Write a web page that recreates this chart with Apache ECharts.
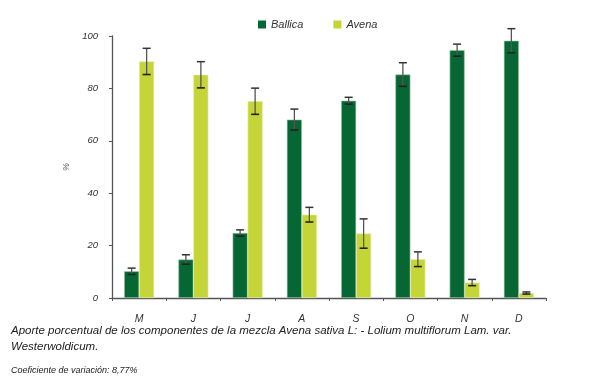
<!DOCTYPE html>
<html>
<head>
<meta charset="utf-8">
<script src="https://cdn.jsdelivr.net/npm/echarts@6/dist/echarts.min.js"></script>
<style>html,body{margin:0;padding:0;background:#fff;}#c{width:600px;height:386px;}</style>
</head>
<body>
<div id="c"></div>
<script>
var months = ['M', 'J', 'J', 'A', 'S', 'O', 'N', 'D'];
var ballica = [10.2, 14.7, 24.8, 68.1, 75.3, 85.3, 94.6, 98.2];
var ballicaErr = [1.2, 1.8, 1.2, 4.0, 1.3, 4.5, 2.3, 4.6];
var avena = [90.3, 85.2, 75.1, 31.8, 24.6, 14.8, 5.9, 1.9];
var avenaErr = [5.0, 5.0, 5.0, 2.8, 5.6, 2.8, 1.2, 0.4];
var yTicks = [0, 20, 40, 60, 80, 100];
var captionLine1 = 'Aporte porcentual de los componentes de la mezcla Avena sativa L: - Lolium multiflorum Lam. var.';
var captionLine2 = 'Westerwoldicum.';
var captionLine3 = 'Coeficiente de variación: 8,77%';

var BAR_W = 15;
var FONT = 'Liberation Sans, Arial, sans-serif';
function errSeries(vals, errs, side) {
  var data = vals.map(function (v, i) { return [i, v - errs[i], v + errs[i]]; });
  return {
    type: 'custom',
    z: 10,
    silent: true,
    data: data,
    renderItem: function (params, api) {
      var i = api.value(0);
      var lo = api.coord([i, api.value(1)]);
      var hi = api.coord([i, api.value(2)]);
      var x = lo[0] + side * BAR_W / 2;
      var cap = 4;
      return {
        type: 'group',
        children: [
          { type: 'line', shape: { x1: x, y1: hi[1], x2: x, y2: lo[1] }, style: { stroke: '#555', lineWidth: 1.3 } },
          { type: 'line', shape: { x1: x - cap, y1: hi[1], x2: x + cap, y2: hi[1] }, style: { stroke: '#333', lineWidth: 1.5 } },
          { type: 'line', shape: { x1: x - cap, y1: lo[1], x2: x + cap, y2: lo[1] }, style: { stroke: '#222', lineWidth: 1.6 } }
        ]
      };
    }
  };
}

var chart = echarts.init(document.getElementById('c'));
chart.setOption({
  animation: false,
  backgroundColor: '#fff',
  textStyle: { fontFamily: FONT },
  legend: {
    top: 14, left: 253,
    itemWidth: 8, itemHeight: 8, itemGap: 30,
    icon: 'rect',
    itemStyle: { borderWidth: 0 },
    textStyle: { fontStyle: 'italic', fontSize: 11, color: '#333', fontFamily: FONT },
    data: ['Ballica', 'Avena']
  },
  grid: { left: 112, right: 54, top: 36, bottom: 88 },
  xAxis: {
    type: 'category',
    data: months,
    axisLine: { lineStyle: { color: '#555', width: 1.3 } },
    axisTick: { show: true, length: 3, lineStyle: { color: '#555' } },
    axisLabel: { fontStyle: 'italic', fontSize: 10.5, color: '#333', margin: 16, fontFamily: FONT }
  },
  yAxis: {
    type: 'value', min: 0, max: 100, interval: 20,
    name: '%', nameLocation: 'middle', nameRotate: 90, nameGap: 38,
    nameTextStyle: { fontStyle: 'italic', fontSize: 9, color: '#555' },
    axisLine: { show: true, lineStyle: { color: '#555', width: 1.3 } },
    axisTick: { show: true, length: 3, lineStyle: { color: '#555' } },
    splitLine: { show: false },
    axisLabel: {
      fontStyle: 'italic', fontSize: 9.5, color: '#333', margin: 14,
      fontFamily: FONT,
      formatter: function (v) { return yTicks.indexOf(v) >= 0 ? String(v) : ''; }
    }
  },
  series: [
    { name: 'Ballica', type: 'bar', data: ballica, barWidth: BAR_W, barGap: '0%',
      itemStyle: { color: '#066634', borderColor: '#9cc7a8', borderWidth: 0.6 } },
    { name: 'Avena', type: 'bar', data: avena, barWidth: BAR_W, barGap: '0%',
      itemStyle: { color: '#c5d538', borderColor: '#e2ebb0', borderWidth: 0.6 } },
    errSeries(ballica, ballicaErr, -1),
    errSeries(avena, avenaErr, 1)
  ],
  graphic: [
    { type: 'text', left: 11, top: 325, style: { text: captionLine1, fontStyle: 'italic', fontSize: 11.5, fill: '#222', fontFamily: FONT } },
    { type: 'text', left: 11, top: 341, style: { text: captionLine2, fontStyle: 'italic', fontSize: 11.5, fill: '#222', fontFamily: FONT } },
    { type: 'text', left: 11, top: 366, style: { text: captionLine3, fontStyle: 'italic', fontSize: 9, fill: '#222', fontFamily: FONT } }
  ]
});
</script>
</body>
</html>
